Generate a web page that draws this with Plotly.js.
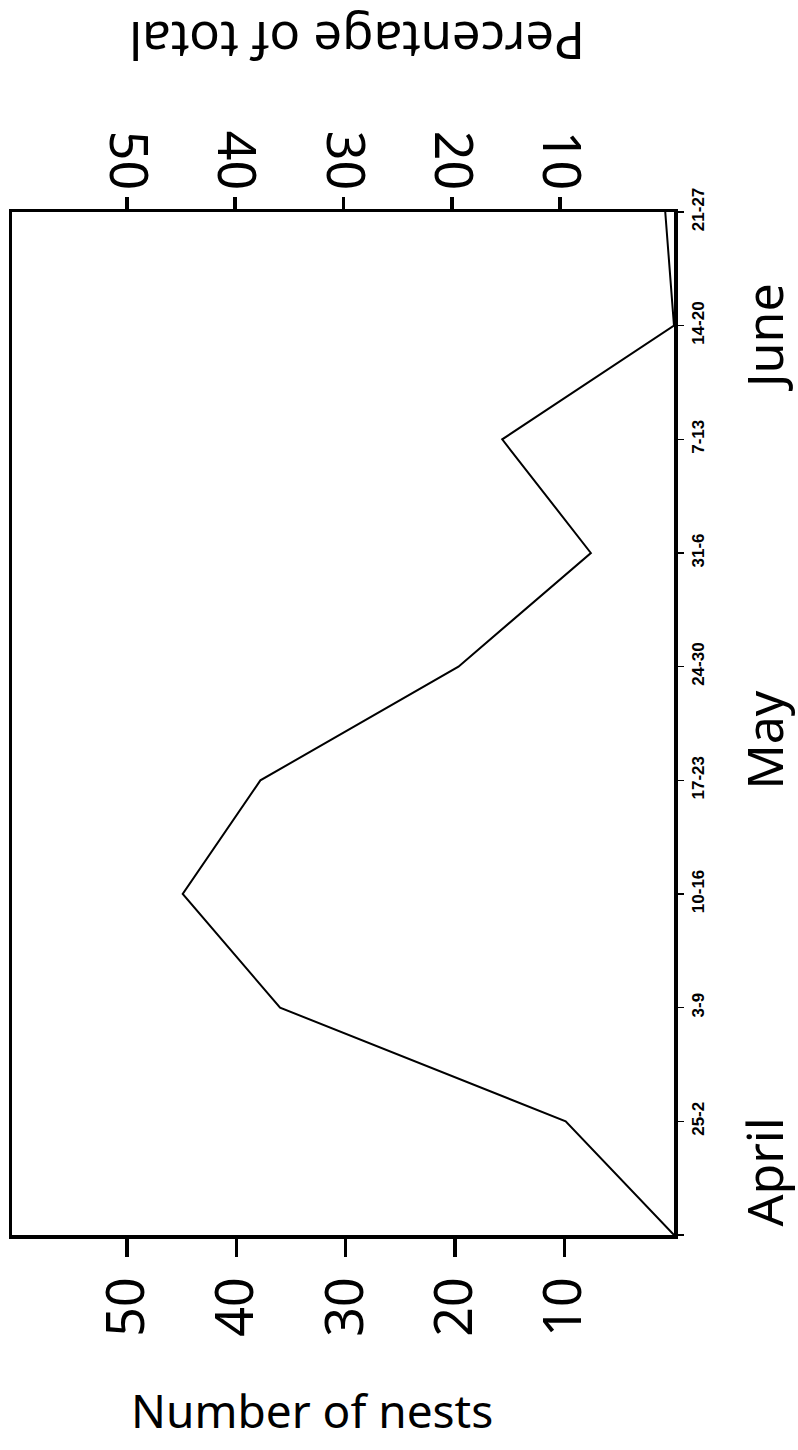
<!DOCTYPE html>
<html>
<head>
<meta charset="utf-8">
<script src="https://cdn.plot.ly/plotly-3.0.1.min.js"></script>
<style>
html,body{margin:0;padding:0;background:#fff;}
#chart{width:798px;height:1450px;}
</style>
</head>
<body>
<div id="chart"></div>
<script>
// Week labels (first point is the start, unlabelled)
const weekLabels = ['', '25-2', '3-9', '10-16', '17-23', '24-30', '31-6', '7-13', '14-20', '21-27'];
// Number of nests per week
const nests = [0, 9.9, 36.0, 44.9, 37.8, 19.7, 7.6, 15.7, 0, 0.8];
// Axis tick values
const nestTicks = [10, 20, 30, 40, 50];
const pctTicks = [10, 20, 30, 40, 50];
const months = ['April', 'May', 'June'];
const monthWeekIndex = [0.55, 4.35, 7.9];

const weekIdx = weekLabels.map((_, i) => i);

const W = 798, H = 1450;
const L = 12, R = 124, T = 212, B = 215;
const pw = W - L - R, ph = H - T - B;
const px = v => (v - L) / pw;
const py = v => (H - B - v) / ph;

const font = 'Noto Sans, DejaVu Sans, sans-serif';

const trace = {
  x: nests,
  y: weekIdx,
  type: 'scatter',
  mode: 'lines',
  line: {color: '#000', width: 2},
  xaxis: 'x',
  yaxis: 'y',
  hoverinfo: 'skip'
};

const layout = {
  width: W, height: H,
  margin: {l: L, r: R, t: T, b: B},
  paper_bgcolor: '#fff',
  plot_bgcolor: '#fff',
  showlegend: false,
  xaxis: {
    range: [60.5, 0],
    tickvals: nestTicks,
    ticktext: nestTicks.map(String),
    tickangle: -90,
    ticks: 'outside', ticklen: 18, tickwidth: 3.5, tickcolor: '#000',
    showline: true, linewidth: 3.5, linecolor: '#000',
    showgrid: false, zeroline: false,
    tickfont: {family: font, size: 52, color: '#000'}
  },
  xaxis2: {
    overlaying: 'x', side: 'top', anchor: 'y',
    range: [60.6, -0.5],
    tickvals: pctTicks,
    ticktext: pctTicks.map(String),
    tickangle: 90,
    ticks: 'outside', ticklen: 12, tickwidth: 3.5, tickcolor: '#000',
    ticklabelstandoff: -12,
    showline: true, linewidth: 3.5, linecolor: '#000',
    showgrid: false, zeroline: false,
    tickfont: {family: font, size: 52, color: '#000'}
  },
  yaxis: {
    range: [0, weekLabels.length - 1],
    side: 'right',
    tickvals: weekIdx,
    ticktext: weekLabels,
    tickangle: -90,
    ticks: 'outside', ticklen: 6, tickwidth: 1.5, tickcolor: '#000',
    showline: true, mirror: true, linewidth: 3.5, linecolor: '#000',
    showgrid: false, zeroline: false,
    tickfont: {family: 'Liberation Sans, Arial, sans-serif', size: 17, color: '#000', weight: 'bold'}
  },
  annotations: [
    {text: 'Number of nests', xref: 'paper', yref: 'paper', x: px(312), y: py(1410),
     showarrow: false, font: {family: font, size: 46, color: '#000'}, xanchor: 'center', yanchor: 'middle'},
    {text: 'Percentage of total', xref: 'paper', yref: 'paper', x: px(357), y: py(42),
     showarrow: false, textangle: 180, font: {family: font, size: 51, color: '#000'}, xanchor: 'center', yanchor: 'middle'},
  ].concat(months.map((m, i) => ({
    text: m, xref: 'paper', yref: 'y', x: px(764), y: monthWeekIndex[i],
    showarrow: false, textangle: -90, font: {family: font, size: 50, color: '#000'},
    xanchor: 'center', yanchor: 'middle'
  })))
};

const trace2 = {x: [], y: [], xaxis: 'x2', yaxis: 'y', type: 'scatter', mode: 'lines', hoverinfo: 'skip'};

Plotly.newPlot('chart', [trace, trace2], layout, {staticPlot: true});
</script>
</body>
</html>
